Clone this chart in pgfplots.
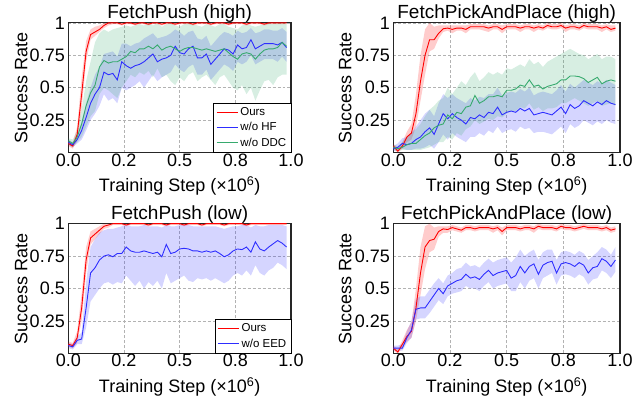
\documentclass[border=0pt]{standalone}
\usepackage{fontspec}
\setmainfont{Liberation Sans}
\usepackage{pgfplots}
\pgfplotsset{compat=1.18}
\usepackage{pgfplotstable}
\usepgfplotslibrary{fillbetween}

\definecolor{cred}{RGB}{255,0,0}
\definecolor{cblue}{RGB}{45,45,255}
\definecolor{cgreen}{RGB}{55,170,110}

% columns: step, then mean/low/high for Ours (r), w/o HF or EED (b), w/o DDC (g)
\pgfplotstableread{
x rm rl rh bm bl bh gm gl gh
0.00 0.07 0.05 0.09 0.08 0.06 0.10 0.09 0.06 0.11
0.02 0.05 0.03 0.07 0.06 0.04 0.08 0.07 0.04 0.10
0.04 0.14 0.09 0.20 0.10 0.07 0.14 0.12 0.08 0.17
0.06 0.45 0.34 0.58 0.17 0.10 0.24 0.22 0.12 0.33
0.08 0.78 0.70 0.86 0.27 0.17 0.38 0.36 0.20 0.55
0.10 0.91 0.87 0.95 0.38 0.25 0.50 0.46 0.28 0.70
0.12 0.93 0.90 0.97 0.45 0.30 0.60 0.52 0.32 0.85
0.14 0.95 0.93 0.98 0.50 0.36 0.66 0.66 0.45 0.92
0.16 0.98 0.96 1.00 0.62 0.45 0.76 0.71 0.50 0.95
0.18 1.00 0.98 1.00 0.60 0.40 0.77 0.69 0.48 0.93
0.20 1.00 0.99 1.00 0.61 0.42 0.78 0.70 0.45 0.95
0.22 1.00 0.99 1.00 0.56 0.38 0.74 0.70 0.42 0.96
0.24 0.99 0.98 1.00 0.70 0.50 0.84 0.72 0.50 0.97
0.26 1.00 0.99 1.00 0.67 0.48 0.84 0.74 0.55 0.98
0.28 1.00 0.99 1.00 0.65 0.50 0.82 0.78 0.60 0.97
0.30 0.99 0.98 1.00 0.67 0.52 0.84 0.77 0.58 0.98
0.32 1.00 0.99 1.00 0.68 0.55 0.85 0.80 0.62 0.99
0.34 1.00 0.99 1.00 0.70 0.50 0.88 0.80 0.60 0.98
0.36 0.99 0.98 1.00 0.73 0.55 0.90 0.82 0.63 1.00
0.38 1.00 0.99 1.00 0.76 0.60 0.92 0.80 0.58 0.98
0.40 1.00 0.99 1.00 0.70 0.55 0.88 0.83 0.65 1.00
0.42 0.99 0.98 1.00 0.72 0.58 0.89 0.79 0.58 0.97
0.44 1.00 0.99 1.00 0.73 0.60 0.90 0.81 0.60 0.99
0.46 1.00 0.99 1.00 0.75 0.62 0.92 0.82 0.55 1.00
0.48 0.99 0.98 1.00 0.82 0.68 0.95 0.80 0.52 0.98
0.50 1.00 0.99 1.00 0.77 0.64 0.93 0.78 0.58 0.97
0.52 1.00 0.99 1.00 0.76 0.62 0.90 0.80 0.55 0.99
0.54 1.00 0.99 1.00 0.80 0.66 0.93 0.81 0.60 1.00
0.56 0.99 0.98 1.00 0.82 0.68 0.94 0.81 0.62 0.99
0.58 1.00 0.99 1.00 0.73 0.60 0.88 0.80 0.55 0.98
0.60 1.00 0.99 1.00 0.73 0.60 0.87 0.79 0.58 0.97
0.62 1.00 0.99 1.00 0.76 0.64 0.90 0.80 0.60 0.99
0.64 0.99 0.98 1.00 0.68 0.56 0.82 0.79 0.56 0.98
0.66 1.00 0.99 1.00 0.72 0.60 0.86 0.78 0.52 0.97
0.68 1.00 0.99 1.00 0.76 0.64 0.90 0.79 0.58 0.99
0.70 1.00 0.99 1.00 0.80 0.68 0.93 0.80 0.60 0.99
0.72 0.99 0.98 1.00 0.79 0.66 0.92 0.77 0.55 0.97
0.74 1.00 0.99 1.00 0.76 0.63 0.90 0.74 0.50 0.96
0.76 1.00 0.99 1.00 0.83 0.70 0.94 0.72 0.48 0.95
0.78 1.00 0.99 1.00 0.80 0.68 0.92 0.76 0.52 0.98
0.80 0.99 0.98 1.00 0.81 0.70 0.93 0.77 0.45 0.99
0.82 1.00 0.99 1.00 0.87 0.75 0.96 0.76 0.50 0.98
0.84 1.00 0.99 1.00 0.80 0.68 0.92 0.72 0.40 0.97
0.86 1.00 0.99 1.00 0.82 0.70 0.93 0.76 0.48 0.98
0.88 0.99 0.98 1.00 0.84 0.72 0.95 0.79 0.55 0.99
0.90 1.00 0.99 1.00 0.84 0.72 0.95 0.80 0.56 1.00
0.92 1.00 0.99 1.00 0.84 0.72 0.94 0.80 0.52 0.99
0.94 1.00 0.99 1.00 0.83 0.70 0.94 0.81 0.58 1.00
0.96 1.00 0.99 1.00 0.85 0.74 0.96 0.85 0.60 1.00
0.98 1.00 0.99 1.00 0.81 0.70 0.93 0.82 0.60 1.00
}\pushhigh

\pgfplotstableread{
x rm rl rh bm bl bh gm gl gh
0.00 0.05 0.03 0.07 0.03 0.01 0.05 0.04 0.02 0.06
0.02 0.01 0.00 0.03 0.04 0.02 0.07 0.03 0.01 0.05
0.04 0.05 0.03 0.08 0.07 0.03 0.11 0.04 0.02 0.08
0.06 0.12 0.08 0.16 0.06 0.02 0.12 0.06 0.02 0.12
0.08 0.15 0.10 0.22 0.07 0.02 0.15 0.07 0.02 0.15
0.10 0.30 0.20 0.45 0.10 0.03 0.20 0.07 0.02 0.18
0.12 0.55 0.40 0.75 0.12 0.03 0.25 0.10 0.02 0.22
0.14 0.75 0.60 0.95 0.16 0.04 0.30 0.13 0.03 0.28
0.16 0.87 0.78 1.00 0.19 0.06 0.33 0.15 0.04 0.33
0.18 0.87 0.80 0.97 0.14 0.03 0.28 0.19 0.06 0.36
0.20 0.92 0.88 0.98 0.22 0.08 0.38 0.21 0.08 0.40
0.22 0.955 0.93 0.98 0.30 0.14 0.45 0.22 0.08 0.42
0.24 0.96 0.94 0.98 0.26 0.10 0.42 0.29 0.12 0.50
0.26 0.95 0.92 0.98 0.30 0.15 0.45 0.26 0.10 0.45
0.28 0.96 0.94 0.98 0.27 0.12 0.42 0.31 0.15 0.50
0.30 0.96 0.94 0.98 0.25 0.10 0.40 0.30 0.13 0.55
0.32 0.95 0.92 0.98 0.22 0.08 0.38 0.35 0.18 0.52
0.34 0.97 0.95 0.99 0.27 0.12 0.42 0.36 0.20 0.58
0.36 0.97 0.95 0.99 0.26 0.12 0.40 0.44 0.25 0.62
0.38 0.97 0.95 0.99 0.29 0.15 0.43 0.38 0.22 0.55
0.40 0.97 0.94 0.99 0.27 0.13 0.42 0.40 0.24 0.58
0.42 0.96 0.93 0.98 0.31 0.17 0.45 0.43 0.26 0.62
0.44 0.97 0.95 0.99 0.30 0.15 0.45 0.43 0.25 0.60
0.46 0.97 0.95 0.99 0.35 0.20 0.50 0.44 0.28 0.62
0.48 0.95 0.92 0.98 0.29 0.15 0.44 0.43 0.27 0.60
0.50 0.97 0.95 0.99 0.31 0.17 0.46 0.48 0.30 0.65
0.52 0.97 0.95 0.99 0.32 0.18 0.47 0.48 0.32 0.64
0.54 0.97 0.95 0.99 0.31 0.16 0.46 0.49 0.32 0.66
0.56 0.96 0.93 0.98 0.34 0.20 0.49 0.52 0.35 0.68
0.58 0.97 0.95 0.99 0.32 0.18 0.47 0.51 0.34 0.66
0.60 0.97 0.95 0.99 0.34 0.19 0.50 0.56 0.38 0.72
0.62 0.96 0.93 0.98 0.29 0.15 0.44 0.51 0.33 0.68
0.64 0.97 0.95 0.99 0.30 0.16 0.46 0.52 0.35 0.70
0.66 0.96 0.94 0.98 0.31 0.16 0.47 0.49 0.32 0.66
0.68 0.98 0.96 1.00 0.30 0.15 0.46 0.51 0.34 0.70
0.70 0.97 0.95 0.99 0.29 0.14 0.45 0.52 0.34 0.72
0.72 0.97 0.95 0.99 0.32 0.17 0.48 0.53 0.35 0.74
0.74 0.98 0.96 1.00 0.35 0.20 0.52 0.56 0.38 0.76
0.76 0.96 0.93 0.98 0.30 0.15 0.47 0.56 0.38 0.78
0.78 0.97 0.95 0.99 0.37 0.22 0.53 0.59 0.40 0.80
0.80 0.97 0.95 0.99 0.34 0.19 0.50 0.59 0.42 0.78
0.82 0.96 0.94 0.98 0.36 0.21 0.53 0.585 0.40 0.76
0.84 0.98 0.96 1.00 0.40 0.25 0.56 0.57 0.38 0.75
0.86 0.97 0.95 0.99 0.38 0.23 0.54 0.54 0.36 0.72
0.88 0.97 0.95 0.99 0.36 0.21 0.52 0.56 0.38 0.74
0.90 0.97 0.95 0.99 0.39 0.24 0.55 0.58 0.40 0.76
0.92 0.96 0.93 0.98 0.37 0.22 0.53 0.53 0.36 0.72
0.94 0.97 0.95 0.99 0.40 0.25 0.56 0.55 0.37 0.74
0.96 0.95 0.93 0.98 0.38 0.23 0.54 0.56 0.38 0.74
0.98 0.96 0.94 0.98 0.37 0.22 0.52 0.55 0.36 0.72
}\pphigh

\pgfplotstableread{
x rm rl rh bm bl bh
0.00 0.07 0.05 0.09 0.06 0.04 0.08
0.02 0.06 0.04 0.08 0.05 0.03 0.07
0.04 0.12 0.08 0.17 0.10 0.07 0.13
0.06 0.35 0.25 0.46 0.11 0.07 0.16
0.08 0.72 0.62 0.82 0.35 0.20 0.55
0.10 0.89 0.84 0.94 0.62 0.40 0.82
0.12 0.92 0.88 0.96 0.66 0.45 0.88
0.14 0.95 0.92 0.98 0.72 0.50 0.93
0.16 0.98 0.96 1.00 0.75 0.54 0.95
0.18 0.99 0.97 1.00 0.76 0.55 0.96
0.20 1.00 0.99 1.00 0.745 0.53 0.96
0.22 1.00 0.99 1.00 0.77 0.55 0.97
0.24 1.00 0.99 1.00 0.77 0.54 0.98
0.26 0.99 0.98 1.00 0.82 0.60 0.99
0.28 1.00 0.99 1.00 0.79 0.56 0.98
0.30 1.00 0.99 1.00 0.78 0.52 0.98
0.32 1.00 0.99 1.00 0.78 0.56 0.98
0.34 1.00 0.99 1.00 0.79 0.50 0.99
0.36 0.99 0.98 1.00 0.78 0.55 0.98
0.38 1.00 0.99 1.00 0.77 0.52 0.98
0.40 1.00 0.99 1.00 0.78 0.56 0.98
0.42 1.00 0.99 1.00 0.745 0.50 0.97
0.44 0.99 0.98 1.00 0.84 0.62 0.99
0.46 1.00 0.99 1.00 0.77 0.54 0.98
0.48 1.00 0.99 1.00 0.78 0.56 0.98
0.50 1.00 0.99 1.00 0.805 0.58 0.99
0.52 0.99 0.98 1.00 0.81 0.60 0.99
0.54 1.00 0.99 1.00 0.805 0.56 0.99
0.56 1.00 0.99 1.00 0.79 0.55 0.98
0.58 1.00 0.99 1.00 0.79 0.58 0.98
0.60 0.99 0.98 1.00 0.78 0.57 0.98
0.62 1.00 0.99 1.00 0.79 0.58 0.98
0.64 1.00 0.99 1.00 0.78 0.56 0.98
0.66 1.00 0.99 1.00 0.79 0.58 0.98
0.68 1.00 0.99 1.00 0.77 0.56 0.97
0.70 0.99 0.98 1.00 0.745 0.54 0.96
0.72 1.00 0.99 1.00 0.76 0.56 0.97
0.74 1.00 0.99 1.00 0.79 0.60 0.98
0.76 1.00 0.99 1.00 0.805 0.62 0.98
0.78 1.00 0.99 1.00 0.80 0.60 0.99
0.80 0.99 0.98 1.00 0.82 0.64 0.99
0.82 1.00 0.99 1.00 0.78 0.60 0.97
0.84 1.00 0.99 1.00 0.86 0.68 0.99
0.86 1.00 0.99 1.00 0.805 0.62 0.98
0.88 1.00 0.99 1.00 0.79 0.60 0.98
0.90 1.00 0.99 1.00 0.82 0.64 0.99
0.92 1.00 0.99 1.00 0.845 0.66 0.99
0.94 1.00 0.99 1.00 0.87 0.70 0.99
0.96 1.00 0.99 1.00 0.85 0.68 0.99
0.98 1.00 0.99 1.00 0.82 0.65 0.98
}\pushlow

\pgfplotstableread{
x rm rl rh bm bl bh
0.00 0.04 0.02 0.06 0.04 0.02 0.06
0.02 0.01 0.00 0.03 0.04 0.02 0.06
0.04 0.07 0.04 0.10 0.04 0.02 0.07
0.06 0.13 0.09 0.18 0.12 0.08 0.17
0.08 0.17 0.12 0.24 0.18 0.12 0.25
0.10 0.35 0.25 0.50 0.34 0.26 0.42
0.12 0.62 0.45 0.82 0.35 0.27 0.44
0.14 0.82 0.65 0.98 0.35 0.27 0.44
0.16 0.87 0.78 1.00 0.40 0.31 0.49
0.18 0.88 0.80 0.97 0.45 0.36 0.54
0.20 0.94 0.90 0.98 0.50 0.41 0.58
0.22 0.96 0.93 0.98 0.46 0.38 0.54
0.24 0.955 0.93 0.98 0.52 0.44 0.60
0.26 0.97 0.95 0.99 0.54 0.46 0.62
0.28 0.96 0.94 0.98 0.56 0.47 0.65
0.30 0.95 0.93 0.97 0.57 0.48 0.66
0.32 0.97 0.95 0.99 0.61 0.52 0.70
0.34 0.97 0.95 0.99 0.58 0.50 0.67
0.36 0.96 0.94 0.98 0.59 0.50 0.68
0.38 0.97 0.95 0.99 0.57 0.48 0.66
0.40 0.97 0.95 0.99 0.61 0.52 0.70
0.42 0.97 0.95 0.99 0.64 0.55 0.73
0.44 0.96 0.93 0.98 0.60 0.50 0.70
0.46 0.97 0.95 0.99 0.62 0.52 0.72
0.48 0.94 0.91 0.97 0.63 0.53 0.73
0.50 0.97 0.95 0.99 0.64 0.54 0.74
0.52 0.97 0.95 0.99 0.58 0.48 0.70
0.54 0.97 0.95 0.99 0.60 0.48 0.74
0.56 0.96 0.94 0.98 0.67 0.55 0.80
0.58 0.97 0.95 0.99 0.62 0.50 0.75
0.60 0.97 0.95 0.99 0.67 0.56 0.78
0.62 0.96 0.93 0.98 0.69 0.58 0.80
0.64 0.98 0.96 1.00 0.61 0.50 0.72
0.66 0.97 0.95 0.99 0.68 0.58 0.78
0.68 0.97 0.95 0.99 0.70 0.60 0.80
0.70 0.97 0.95 0.99 0.71 0.62 0.80
0.72 0.96 0.94 0.98 0.62 0.53 0.72
0.74 0.98 0.96 1.00 0.69 0.60 0.78
0.76 0.97 0.95 0.99 0.70 0.61 0.79
0.78 0.97 0.95 0.99 0.69 0.60 0.78
0.80 0.96 0.94 0.98 0.67 0.58 0.76
0.82 0.97 0.95 0.99 0.70 0.61 0.79
0.84 0.98 0.96 1.00 0.68 0.59 0.77
0.86 0.97 0.95 0.99 0.62 0.53 0.72
0.88 0.97 0.95 0.99 0.66 0.57 0.75
0.90 0.97 0.95 0.99 0.67 0.58 0.78
0.92 0.96 0.94 0.98 0.73 0.64 0.82
0.94 0.97 0.95 0.99 0.71 0.62 0.80
0.96 0.95 0.93 0.97 0.67 0.58 0.76
0.98 0.96 0.94 0.98 0.72 0.63 0.82
}\pplow

% shaded band between two columns: table, low col, high col, colour, prefix
\newcommand{\band}[5]{%
  \addplot[draw=none, forget plot, name path=#5#2] table[x=x, y=#2] {#1};
  \addplot[draw=none, forget plot, name path=#5#3] table[x=x, y=#3] {#1};
  \addplot[#4, draw=none, fill opacity=0.2, forget plot] fill between[of=#5#2 and #5#3];
}

\pgfplotsset{
  panel/.style={
    set layers,
    scale only axis, height=129.6bp,
    xmin=0, xmax=1, ymin=0, ymax=1,
    xtick={0,0.25,0.5,0.75,1}, xticklabels={0.0,0.2,0.5,0.8,1.0},
    ytick={0.25,0.5,0.75,1}, yticklabels={0.25,0.5,0.75,1},
    /pgf/number format/assume math mode=true,
    major tick length=0pt,
    grid=major,
    grid style={densely dashed, black!30, line width=0.5pt},
    axis line style={black!85, line width=1.1pt},
    tick label style={font=\fontsize{18bp}{20bp}\selectfont},
    xticklabel style={yshift=2.5bp},
    label style={font=\fontsize{18bp}{20bp}\selectfont},
    title style={font=\fontsize{19bp}{21bp}\selectfont, anchor=base, yshift=-1.5bp},
    xlabel={Training Step (×10\textsuperscript{6})},
    ylabel={Success Rate},
    xlabel style={at={(axis description cs:0.5,-0.304)}, anchor=base},
    ylabel style={at={(axis description cs:-0.212,0.5)}, anchor=center},
    legend style={at={(1,0)}, anchor=south east, font=\fontsize{11.5bp}{14bp}\selectfont,
      draw=black, inner sep=2.5bp, row sep=1.5bp},
    legend cell align=left,
    legend image code/.code={\draw[##1, line width=1.2pt] (0bp,0bp) -- (21bp,0bp);},
  },
  mean/.style={line width=0.9pt},
}

\begin{document}
\begin{tikzpicture}

\begin{axis}[panel, at={(68.3bp,249.5bp)}, anchor=south west, width=222.7bp,
  title={FetchPush (high)}]
\addplot[mean, cred] table[x=x, y=rm] {\pushhigh};
\addlegendentry{Ours}
\addplot[mean, cblue] table[x=x, y=bm] {\pushhigh};
\addlegendentry{w/o HF}
\addplot[mean, cgreen] table[x=x, y=gm] {\pushhigh};
\addlegendentry{w/o DDC}
\band{\pushhigh}{rl}{rh}{cred}{a}
\band{\pushhigh}{bl}{bh}{cblue}{a}
\band{\pushhigh}{gl}{gh}{cgreen}{a}
\end{axis}

\begin{axis}[panel, at={(393.3bp,249.5bp)}, anchor=south west, width=226.7bp,
  title={FetchPickAndPlace (high)}]
\addplot[mean, cred] table[x=x, y=rm] {\pphigh};
\addplot[mean, cblue] table[x=x, y=bm] {\pphigh};
\addplot[mean, cgreen] table[x=x, y=gm] {\pphigh};
\band{\pphigh}{rl}{rh}{cred}{b}
\band{\pphigh}{bl}{bh}{cblue}{b}
\band{\pphigh}{gl}{gh}{cgreen}{b}
\end{axis}

\begin{axis}[panel, at={(68.3bp,48.7bp)}, anchor=south west, width=222.7bp,
  title={FetchPush (low)}]
\addplot[mean, cred] table[x=x, y=rm] {\pushlow};
\addlegendentry{Ours}
\addplot[mean, cblue] table[x=x, y=bm] {\pushlow};
\addlegendentry{w/o EED}
\band{\pushlow}{rl}{rh}{cred}{c}
\band{\pushlow}{bl}{bh}{cblue}{c}
\end{axis}

\begin{axis}[panel, at={(393.3bp,48.7bp)}, anchor=south west, width=226.7bp,
  title={FetchPickAndPlace (low)}]
\addplot[mean, cred] table[x=x, y=rm] {\pplow};
\addplot[mean, cblue] table[x=x, y=bm] {\pplow};
\band{\pplow}{rl}{rh}{cred}{d}
\band{\pplow}{bl}{bh}{cblue}{d}
\end{axis}

% fix the page to the reference's size
\pgfresetboundingbox
\path[use as bounding box] (0,0) rectangle (643bp,402bp);
\end{tikzpicture}
\end{document}
